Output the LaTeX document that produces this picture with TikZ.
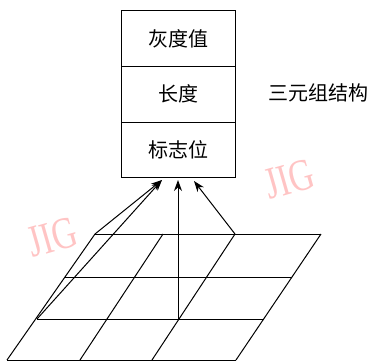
\documentclass[tikz,border=0pt]{standalone}
\usepackage{fontspec}
\usepackage{graphicx}
\newfontfamily\cjk{Noto Sans CJK SC}
\newfontfamily\wmfont{Liberation Serif}
\usetikzlibrary{arrows.meta}
\definecolor{wmpink}{RGB}{255,196,196}
\tikzset{
  cell/.style={draw, line width=1pt, minimum width=114pt, minimum height=55.7pt, inner sep=0pt, font=\cjk\fontsize{20}{20}\selectfont},
  gridline/.style={line width=1pt},
  arr/.style={line width=1pt, -{Stealth[length=11pt,width=8pt]}},
  wm/.style={text=wmpink, inner sep=0pt, font=\wmfont\fontsize{36}{36}\selectfont, rotate=16},
  lbl/.style={font=\cjk\fontsize{20}{20}\selectfont}
}
\begin{document}
\begin{tikzpicture}[x=1pt,y=-1pt]
\useasboundingbox (0,0) rectangle (373,362);
% watermarks
\node[wm] (wm1) at (52,237) {\scalebox{0.95}[1.25]{JIG}};
\node[wm] (wm2) at (289,179) {\scalebox{0.95}[1.25]{JIG}};
% box
\node[cell] (v1) at (178,38.5) {灰度值};
\node[cell] (v2) at (178,94.2) {长度};
\node[cell] (v3) at (178,149.9) {标志位};
\node[lbl] (lab) at (318,93) {三元组结构};
% grid points
\coordinate (g00) at (95,234);  \coordinate (g01) at (163,234); \coordinate (g02) at (235,234); \coordinate (g03) at (321,234);
\coordinate (g10) at (65,277);  \coordinate (g11) at (135,277); \coordinate (g12) at (207,277); \coordinate (g13) at (292,277);
\coordinate (g20) at (37,319);  \coordinate (g21) at (107,319); \coordinate (g22) at (178,319); \coordinate (g23) at (264,319);
\coordinate (g30) at (7,360);   \coordinate (g31) at (80,360);  \coordinate (g32) at (152,360); \coordinate (g33) at (236,360);
\foreach \r in {0,1,2,3} { \draw[gridline] (g\r0) -- (g\r3); }
\foreach \c in {0,1,2,3} { \draw[gridline] (g0\c) -- (g3\c); }
% arrow tips
\coordinate (tA) at (162,180);
\coordinate (tB) at (178,180);
\coordinate (tC) at (194,181);
\draw[arr] (g00) -- (tA);
\draw[arr] (g20) -- (tA);
\draw[arr] (g22) -- (tB);
\draw[arr] (g02) -- (tC);
\end{tikzpicture}
\end{document}
